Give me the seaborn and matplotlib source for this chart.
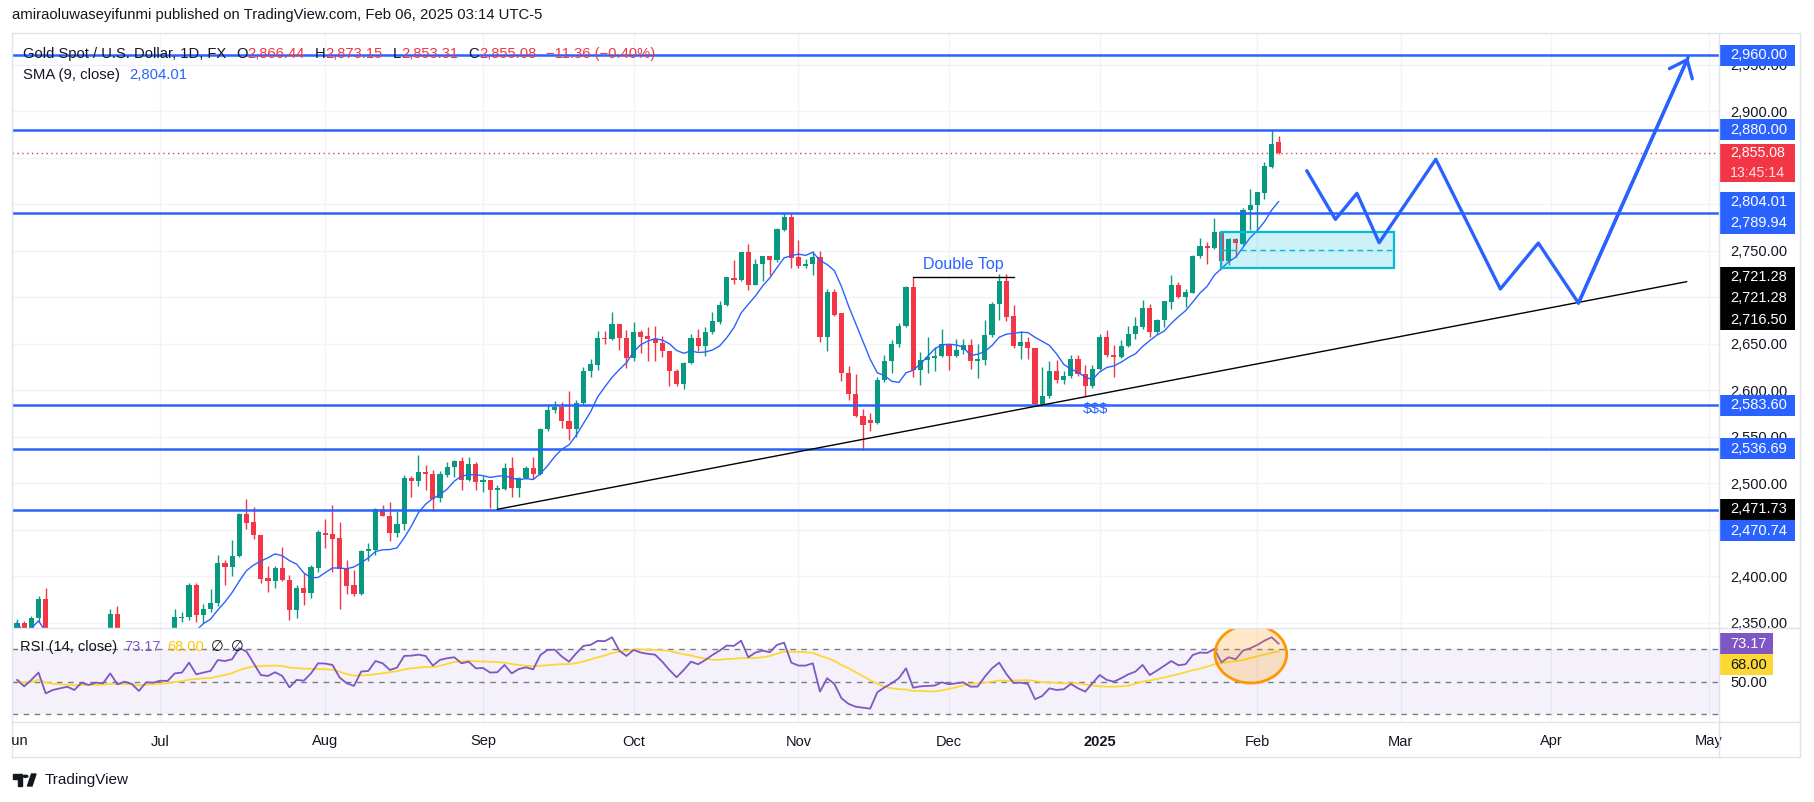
import numpy as np
import pandas as pd
import seaborn as sns
import matplotlib.pyplot as plt
from matplotlib import transforms
from matplotlib.patches import Rectangle, Ellipse, Polygon, Circle
from matplotlib.lines import Line2D

# ---- daily candles XAUUSD, 2024-06-03 .. 2025-02-06 ----
opens = [2327, 2350, 2327, 2355, 2375, 2294, 2311, 2316, 2324, 2303,
         2333, 2319, 2329, 2328, 2359, 2322, 2334, 2319, 2298, 2327,
         2326, 2332, 2330, 2355, 2356, 2390, 2358, 2364, 2371, 2414,
         2410, 2421, 2467, 2458, 2444, 2398, 2395, 2409, 2396, 2363,
         2387, 2382, 2409, 2446, 2445, 2441, 2409, 2390, 2381, 2427,
         2428, 2472, 2464, 2446, 2456, 2505, 2502, 2512, 2510, 2484,
         2509, 2517, 2524, 2503, 2520, 2501, 2503, 2493, 2494, 2516,
         2495, 2505, 2516, 2510, 2558, 2579, 2582, 2567, 2558, 2586,
         2620, 2627, 2656, 2655, 2671, 2656, 2634, 2662, 2658, 2655,
         2651, 2642, 2620, 2606, 2629, 2656, 2647, 2662, 2673, 2691,
         2720, 2718, 2748, 2713, 2735, 2744, 2740, 2772, 2786, 2743,
         2733, 2736, 2743, 2657, 2705, 2683, 2618, 2596, 2572, 2568,
         2564, 2611, 2631, 2649, 2669, 2711, 2622, 2632, 2634, 2637,
         2650, 2637, 2643, 2648, 2631, 2632, 2659, 2692, 2717, 2680,
         2647, 2652, 2645, 2585, 2594, 2620, 2611, 2615, 2633, 2617,
         2604, 2623, 2657, 2638, 2635, 2647, 2660, 2668, 2688, 2662,
         2675, 2695, 2713, 2700, 2704, 2744, 2755, 2753, 2770, 2739,
         2762, 2757, 2794, 2799, 2812, 2840, 2866.44]
highs = [2354, 2352, 2357, 2378, 2387, 2316, 2317, 2342, 2325, 2335,
         2334, 2335, 2336, 2364, 2368, 2335, 2335, 2325, 2331, 2340,
         2339, 2336, 2365, 2361, 2392, 2392, 2370, 2386, 2423, 2417,
         2439, 2468, 2483, 2474, 2444, 2411, 2411, 2431, 2401, 2390,
         2403, 2412, 2450, 2461, 2476, 2458, 2417, 2407, 2428, 2436,
         2473, 2476, 2480, 2470, 2509, 2508, 2530, 2519, 2514, 2513,
         2523, 2525, 2528, 2528, 2523, 2508, 2503, 2498, 2522, 2528,
         2506, 2518, 2528, 2559, 2585, 2588, 2587, 2599, 2589, 2625,
         2633, 2664, 2663, 2684, 2671, 2665, 2673, 2665, 2668, 2669,
         2658, 2642, 2623, 2630, 2660, 2666, 2668, 2684, 2696, 2721,
         2740, 2748, 2757, 2741, 2744, 2744, 2774, 2790, 2790, 2761,
         2741, 2749, 2749, 2709, 2709, 2683, 2626, 2617, 2580, 2575,
         2614, 2638, 2654, 2672, 2712, 2721.28, 2641, 2657, 2646, 2666,
         2650, 2655, 2655, 2655, 2649, 2675, 2695, 2725, 2725, 2691,
         2663, 2657, 2645, 2625, 2631, 2632, 2620, 2638, 2638, 2627,
         2627, 2660, 2665, 2648, 2654, 2669, 2678, 2697, 2693, 2676,
         2696, 2724, 2716, 2709, 2745, 2764, 2759, 2785, 2770, 2764,
         2764, 2796, 2816, 2813, 2845, 2880, 2873.15]
lows = [2314, 2315, 2323, 2351, 2287, 2287, 2298, 2310, 2297, 2299,
        2311, 2314, 2321, 2327, 2317, 2318, 2310, 2293, 2297, 2319,
        2318, 2319, 2329, 2351, 2353, 2351, 2349, 2361, 2368, 2390,
        2400, 2420, 2451, 2440, 2392, 2383, 2387, 2395, 2353, 2355,
        2369, 2376, 2404, 2430, 2404, 2364, 2381, 2379, 2380, 2416,
        2423, 2465, 2438, 2442, 2450, 2485, 2497, 2492, 2470, 2480,
        2506, 2507, 2493, 2502, 2492, 2490, 2473, 2471.73, 2493, 2485,
        2485, 2504, 2504, 2509, 2556, 2575, 2559, 2546, 2550, 2584,
        2614, 2622, 2649, 2654, 2643, 2624, 2631, 2640, 2631, 2631,
        2636, 2604, 2604, 2601, 2628, 2642, 2637, 2660, 2671, 2690,
        2714, 2717, 2708, 2713, 2717, 2724, 2738, 2771, 2731, 2731,
        2731, 2724, 2652, 2642, 2680, 2610, 2589, 2571, 2536, 2556,
        2563, 2609, 2618, 2646, 2668, 2614, 2605, 2618, 2620, 2636,
        2621, 2635, 2639, 2623, 2613, 2627, 2657, 2675, 2674, 2645,
        2633, 2633, 2583.6, 2583.6, 2591, 2608, 2606, 2613, 2615, 2594,
        2602, 2621, 2636, 2614, 2634, 2646, 2655, 2666, 2657, 2660,
        2668, 2687, 2699, 2689, 2704, 2742, 2735, 2752, 2730, 2734,
        2743, 2756, 2772, 2770, 2805, 2839, 2853.31]
closes = [2350, 2327, 2355, 2375, 2294, 2311, 2316, 2324, 2303, 2333,
          2319, 2329, 2328, 2359, 2322, 2334, 2319, 2298, 2327, 2326,
          2332, 2330, 2356, 2356, 2390, 2358, 2364, 2371, 2414, 2410,
          2421, 2467, 2457, 2444, 2397, 2395, 2409, 2396, 2363, 2387,
          2382, 2410, 2447, 2444, 2440, 2408, 2389, 2381, 2427, 2429,
          2472, 2464, 2446, 2456, 2505, 2502, 2512, 2510, 2483, 2510,
          2517, 2524, 2503, 2520, 2501, 2503, 2493, 2494.5, 2516, 2495,
          2505, 2516, 2510, 2558, 2579, 2582, 2567, 2558, 2586, 2620,
          2628, 2656, 2655, 2671, 2656, 2634, 2662, 2657, 2655, 2651,
          2642, 2620, 2606, 2629, 2656, 2647, 2662, 2674, 2691, 2721,
          2718, 2748, 2713, 2736, 2744, 2740, 2773, 2786, 2742, 2733,
          2736, 2743, 2657, 2705, 2681, 2618, 2596, 2572, 2562, 2564,
          2611, 2631, 2650, 2669, 2711, 2622, 2632, 2635, 2637, 2650,
          2637, 2643, 2648, 2631, 2633, 2659, 2693, 2717, 2679, 2647,
          2652, 2645, 2585, 2594, 2620, 2611, 2615, 2633, 2617, 2604,
          2623, 2657, 2638, 2635, 2647, 2660, 2669, 2688, 2662, 2675,
          2696, 2713, 2700, 2705, 2744, 2755, 2753, 2770, 2739, 2762,
          2758, 2794, 2799, 2813, 2841, 2865, 2855.08]
rsi = [51, 47, 51, 55.5, 42.7, 44.8, 45.8, 46.8, 44.8, 49.3,
       47.9, 49.3, 48.9, 55, 48.3, 49.9, 48.5, 44.2, 49.5, 49.3,
       50.5, 50.3, 55, 55.5, 61.6, 54.4, 55.5, 56.5, 63.2, 62.6,
       63.7, 70.5, 68.5, 61.2, 54, 53.4, 55.7, 53.4, 46.4, 51,
       50.5, 55, 61.2, 61, 60.2, 52.4, 48.9, 47.3, 56.1, 56.5,
       62.6, 61.2, 57.1, 58.5, 65.7, 65.9, 66.5, 65.7, 59.8, 63.3,
       64.3, 64.9, 61.2, 62.2, 58.1, 58.3, 55.5, 55.7, 60.2, 55,
       57.7, 58.7, 57.5, 66.3, 69.4, 69.6, 65.3, 62.2, 67.3, 71.9,
       72.5, 75, 74.8, 77.2, 69, 65.7, 69.4, 67.8, 67, 66.5,
       62.2, 57.1, 52.6, 57.1, 62.2, 60.6, 63.2, 66.3, 69, 72.1,
       71.9, 75.1, 64.9, 67.8, 69, 68, 72.5, 73.9, 61.6, 59.8,
       59.8, 61.2, 43.8, 52, 48.5, 39.7, 36.2, 34.5, 33.9, 33.3,
       43.4, 46.4, 48.9, 52, 58.1, 46.2, 47, 47.3, 47.5, 49.5,
       48.3, 48.9, 49.5, 46.8, 46.9, 53, 58.1, 61.6, 54.6, 49.1,
       49.3, 48.5, 39.1, 41.1, 45.8, 44.8, 45.2, 48.5, 45.8, 43.8,
       48.9, 54, 51, 49.9, 52, 54.4, 56.1, 60.2, 54, 56.7,
       59.6, 62.6, 60, 60.6, 66.3, 67.8, 67.6, 70, 61.8, 64.9,
       63.7, 69, 70.4, 72.5, 75.1, 77.2, 73.17]

# ---- drawings on the chart ----
h_levels = [2960.00, 2880.00, 2789.94, 2583.60, 2536.69, 2470.74]
trend_x = [67, 232.9]
trend_y = [2471.73, 2716.50]
dtop_x = [125, 139]
dtop_y = [2721.28, 2721.28]
zone_x = [168, 192]
zone_y = [2731.5, 2770.2]
path_x = [179.9, 183.9, 186.9, 190.0, 197.9, 206.9, 212.2, 217.8, 233.1]
path_y = [2835.8, 2783.5, 2811.5, 2758.4, 2848.1, 2708.6, 2758.0, 2693.5, 2957.7]
circle_xy = (172.1, 66.9)
circle_w, circle_h = 10, 35.7
month_names = ['Jun', 'Jul', 'Aug', 'Sep', 'Oct', 'Nov', 'Dec', '2025', 'Feb', 'Mar', 'Apr', 'May']
hidden_ticks = [2450, 2700, 2800, 2850]   # price-scale labels covered by tags

BLUE = '#2962ff'
RED = '#f23645'
GREEN = '#089981'
DARK = '#131722'
BORDER = '#e0e3eb'
GRID = '#f0f3fa'

# trading calendar (no bars on Dec 25 / Jan 1), extended into the future
days = pd.bdate_range('2024-06-03', '2025-05-30')
days = days[~days.isin(pd.to_datetime(['2024-12-25', '2025-01-01']))]
cal = pd.DataFrame({'d': days})
month_pos = cal.groupby([cal.d.dt.year, cal.d.dt.month]).head(1).index.tolist()

idx = np.arange(len(closes))
o = np.array(opens); h = np.array(highs); l = np.array(lows); c = np.array(closes)
sma = pd.Series(closes).rolling(9, min_periods=1).mean()
rsi_ma = pd.Series(rsi).rolling(14, min_periods=1).mean()

sns.set_theme(style="white")
plt.rcParams['font.family'] = ['Liberation Sans', 'DejaVu Sans']

W, H = 1814, 802
fig = plt.figure(figsize=(W / 100, H / 100), dpi=100)
fig.patch.set_facecolor('white')

def fx(x):
    return x / W

def fy(y):
    return 1 - y / H

ax = fig.add_axes([fx(12), fy(628), (1719 - 12) / W, (628 - 33) / H])
rx = fig.add_axes([fx(12), fy(722), (1719 - 12) / W, (722 - 628) / H])
for a in (ax, rx):
    a.set_facecolor('white')
    for s in a.spines.values():
        s.set_visible(False)
    a.set_xlim(-0.7, 237.4)
ax.set_ylim(2344.1, 2983.9)
rx.set_ylim(25.1, 82.9)

# grid
for p in month_pos[1:]:
    ax.axvline(p, color=GRID, lw=1, zorder=0)
    rx.axvline(p, color=GRID, lw=1, zorder=0)
ax.set_yticks(np.arange(2350, 2951, 50))
ax.grid(axis='y', color=GRID, lw=1)
ax.set_axisbelow(True)

# candles
cols = np.where(c >= o, GREEN, RED)
ax.vlines(idx, l, h, colors=cols, lw=1, zorder=3)
ax.bar(idx, np.maximum(np.abs(c - o), 0.9), bottom=np.minimum(o, c), width=0.72,
       color=cols, linewidth=0, zorder=4)
sns.lineplot(x=idx, y=sma, ax=ax, color=BLUE, lw=1.0, zorder=5)

# levels, trend, pattern
ax.axhline(closes[-1], color=RED, lw=1, ls=(0, (1, 2.5)), zorder=2)
for lv in h_levels:
    ax.axhline(lv, color=BLUE, lw=1.8, zorder=6)
sns.lineplot(x=trend_x, y=trend_y, ax=ax, color='black', lw=1, zorder=6)
sns.lineplot(x=dtop_x, y=dtop_y, ax=ax, color='black', lw=1, zorder=6)
ax.text(np.mean(dtop_x), 2734.5, 'Double Top', color=BLUE, fontsize=11.5,
        ha='center', va='center', zorder=7)
ax.text(150.4, 2580, '$$$', color=BLUE, fontsize=11, ha='center', va='center', zorder=7)
ax.add_patch(Rectangle((zone_x[0], zone_y[0]), zone_x[1] - zone_x[0], zone_y[1] - zone_y[0],
                       fc=(0, 0.737, 0.831, 0.2), ec='#00bcd4', lw=1.6, zorder=5))
ax.plot(zone_x, [np.mean(zone_y)] * 2, color='#00bcd4', lw=1, ls=(0, (4, 3)), zorder=5)
sns.lineplot(x=path_x, y=path_y, ax=ax, color=BLUE, lw=2.4, sort=False, zorder=8)
ax.annotate('', xy=(path_x[-1], path_y[-1]), xytext=(path_x[-2], path_y[-2]),
            arrowprops=dict(arrowstyle='->,head_length=0.55,head_width=0.45', color=BLUE,
                            lw=2.4, shrinkA=0, shrinkB=0, mutation_scale=20), zorder=8)

ax.yaxis.tick_right()
ax.yaxis.set_major_formatter(plt.FuncFormatter(
    lambda v, _: '' if round(v) in hidden_ticks else f'{v:,.2f}'))
ax.tick_params(axis='y', length=0, pad=8, labelsize=10.5, labelcolor=DARK)
ax.tick_params(axis='x', bottom=False, labelbottom=False)
ax.set_xlabel(''); ax.set_ylabel('')

# RSI pane
rx.axhspan(30, 70, color='#7e57c2', alpha=0.08, lw=0, zorder=1)
for lv in (70, 50, 30):
    rx.axhline(lv, color='#787b86', lw=1, ls=(0, (4, 4)), zorder=2)
sns.lineplot(x=idx, y=rsi_ma, ax=rx, color='#fdd835', lw=1.3, zorder=3)
sns.lineplot(x=idx, y=rsi, ax=rx, color='#7e57c2', lw=1.3, zorder=4)
rx.add_patch(Ellipse(circle_xy, circle_w, circle_h, fc=(1, 0.6, 0, 0.22), ec='#ff9800',
                     lw=2, zorder=6))
rx.yaxis.tick_right()
rx.set_yticks([50])
rx.yaxis.set_major_formatter(plt.FuncFormatter(lambda v, _: f'{v:,.2f}'))
rx.tick_params(axis='y', length=0, pad=8, labelsize=10.5, labelcolor=DARK)
rx.set_xticks(month_pos[1:])
rx.set_xticklabels(month_names[1:])
rx.tick_params(axis='x', length=0, pad=9, labelsize=10.5, labelcolor=DARK)
for t in rx.get_xticklabels():
    if t.get_text() == '2025':
        t.set_fontweight('bold')
rx.set_xlabel(''); rx.set_ylabel('')
jun = fig.text(fx(17 + 7.17 * month_pos[0]), fy(741), month_names[0], fontsize=10.5,
               color=DARK, ha='center', va='center')
jun.set_clip_box(transforms.TransformedBbox(
    transforms.Bbox.from_extents(fx(12), 0, 1, 1), fig.transFigure))

# price tags on the scale
def tag(axis, value, text, fc, tc, shift=0, hpx=21, right=1795, size=10.5, box=True):
    lo, hi = axis.get_ylim()
    upp = (hi - lo) / (axis.get_position().height * H)
    tr = transforms.blended_transform_factory(axis.transAxes, axis.transData)
    tr = tr + transforms.ScaledTranslation(0, -shift / 100, fig.dpi_scale_trans)
    if box:
        axis.add_patch(Rectangle((1708 / 1707, value - hpx / 2 * upp), (right - 1720) / 1707,
                                 hpx * upp, transform=tr, fc=fc, ec='none',
                                 clip_on=False, zorder=10))
    if text:
        axis.text(1718 / 1707, value, text, transform=tr, color=tc, fontsize=size,
                  ha='left', va='center', clip_on=False, zorder=11)

tag(ax, 2960.00, '2,960.00', BLUE, 'white')
tag(ax, 2880.00, '2,880.00', BLUE, 'white')
tag(ax, 2855.08, '', RED, 'white', shift=10.5, hpx=38)
tag(ax, 2855.08, '2,855.08', RED, 'white', shift=0, size=10.2, box=False)
tag(ax, 2855.08, '13:45:14', RED, '#fde2e4', shift=20, size=10.2, box=False)
tag(ax, sma.iloc[-1], '2,804.01', BLUE, 'white', shift=1)
tag(ax, 2789.94, '2,789.94', BLUE, 'white', shift=9.7)
tag(ax, 2721.28, '2,721.28', 'black', 'white')
tag(ax, 2721.28, '2,721.28', 'black', 'white', shift=21)
tag(ax, 2716.50, '2,716.50', 'black', 'white', shift=38)
tag(ax, 2583.60, '2,583.60', BLUE, 'white')
tag(ax, 2536.69, '2,536.69', BLUE, 'white')
tag(ax, 2471.73, '2,471.73', 'black', 'white')
tag(ax, 2470.74, '2,470.74', BLUE, 'white', shift=20.7)
tag(rx, rsi[-1], f'{rsi[-1]:.2f}', '#7e57c2', 'white', right=1773)
tag(rx, 68.00, '68.00', '#fdd835', DARK, shift=12.7, right=1773)

# legends
renderer = fig.canvas.get_renderer()

def seq_text(x, y, parts, size=10):
    for s, col, gap in parts:
        t = fig.text(fx(x), fy(y), s, color=col, fontsize=size, ha='left', va='center', zorder=20)
        x += t.get_window_extent(renderer).width + gap

fig.text(fx(12), fy(15), 'amiraoluwaseyifunmi published on TradingView.com, Feb 06, 2025 03:14 UTC-5',
         fontsize=10.75, color=DARK, ha='left', va='center')
seq_text(23, 54, [('Gold Spot / U.S. Dollar, 1D, FX', DARK, 10), ('O', DARK, 0), ('2,866.44', RED, 10),
                  ('H', DARK, 0), ('2,873.15', RED, 10), ('L', DARK, 0), ('2,853.31', RED, 10),
                  ('C', DARK, 0), ('2,855.08', RED, 10), ('\u221211.36 (\u22120.40%)', RED, 0)],
         size=10.6)
seq_text(23, 75, [('SMA (9, close)', DARK, 9), ('2,804.01', BLUE, 0)], size=10.7)
seq_text(20, 647, [('RSI (14, close)', DARK, 7), ('73.17', '#7e57c2', 7), ('68.00', '#f9c80e', 7),
                   ('\u2205', DARK, 7), ('\u2205', DARK, 0)], size=10.5)

# frame and separators
def fline(x0, y0, x1, y1):
    fig.add_artist(Line2D([fx(x0), fx(x1)], [fy(y0), fy(y1)], transform=fig.transFigure,
                          color=BORDER, lw=1, zorder=1))

fline(12, 33, 1800, 33); fline(12, 757, 1800, 757)
fline(12, 33, 12, 757); fline(1800, 33, 1800, 757)
fline(12, 628, 1800, 628); fline(12, 722, 1800, 722)
fline(1719, 33, 1719, 757)

# TradingView logo
fig.add_artist(Polygon([(fx(12.5), fy(774)), (fx(22), fy(774)), (fx(22), fy(786)), (fx(17.5), fy(786)),
                        (fx(17.5), fy(778.5)), (fx(12.5), fy(778.5))], closed=True,
                       transform=fig.transFigure, color=DARK))
fig.add_artist(Circle((fx(25.5), fy(776.3)), 2.3 / W, transform=fig.transFigure, color=DARK))
fig.add_artist(Polygon([(fx(27.5), fy(786)), (fx(31.5), fy(774)), (fx(36), fy(774)), (fx(32), fy(786))],
                       closed=True, transform=fig.transFigure, color=DARK))
fig.text(fx(45), fy(780), 'TradingView', fontsize=11, color=DARK, ha='left', va='center')

plt.savefig('out.png', dpi=100)
